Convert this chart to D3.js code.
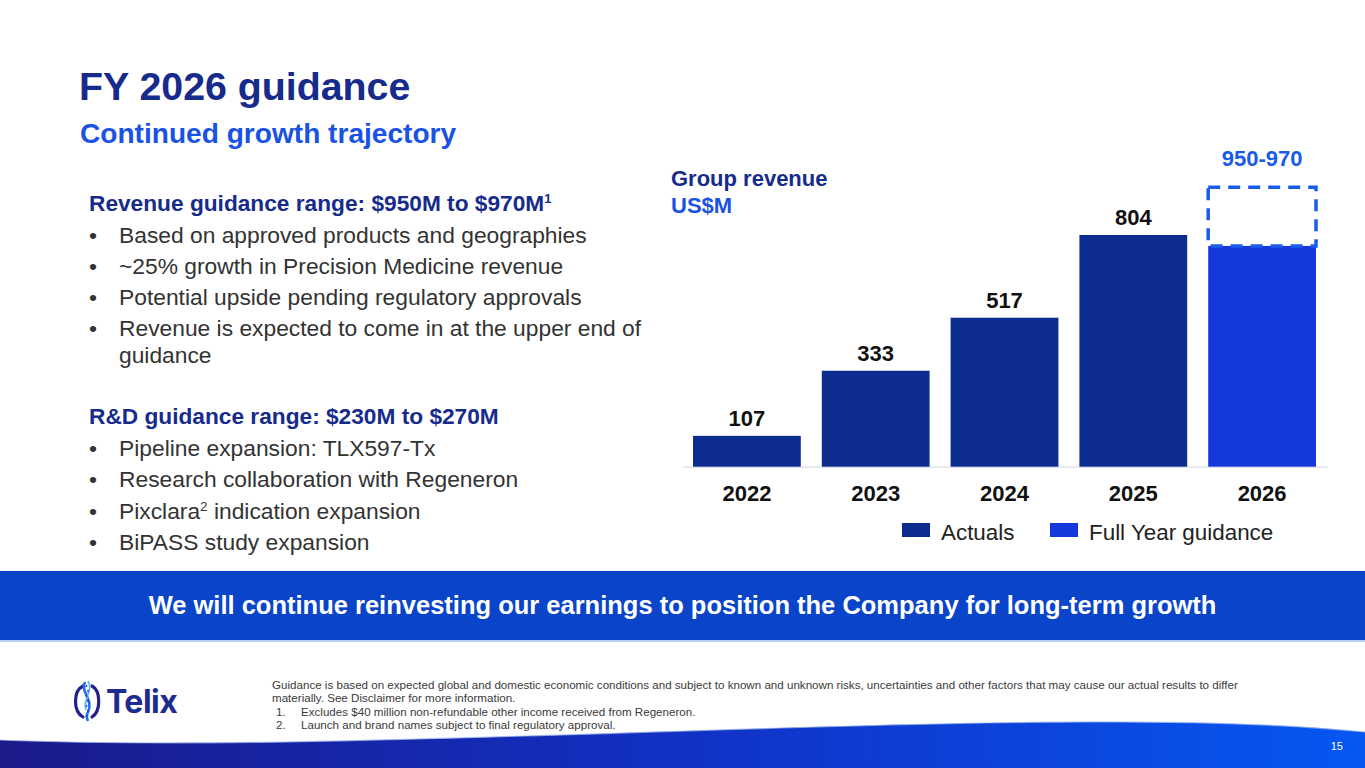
<!DOCTYPE html>
<html><head><meta charset="utf-8">
<script src="https://cdn.jsdelivr.net/npm/d3@7"></script>
<style>html,body{margin:0;padding:0;background:#fff;overflow:hidden}</style>
</head><body>
<svg id="c" width="1365" height="768"></svg>
<script>
// ---- data ----
const years = ["2022", "2023", "2024", "2025", "2026"];
const actualYears = ["2022", "2023", "2024", "2025"];
const actualValues = [107, 333, 517, 804];
const guidanceYear = "2026";
const guidanceSolidDrawn = 766;   // level of the solid 2026 bar as drawn
const guidanceLow = 950;
const guidanceHigh = 970;
const guidanceLabel = "950-970";
const legendLabels = ["Actuals", "Full Year guidance"];

const revHeading = "Revenue guidance range: $950M to $970M";
const revBullets = [
  ["Based on approved products and geographies"],
  ["~25% growth in Precision Medicine revenue"],
  ["Potential upside pending regulatory approvals"],
  ["Revenue is expected to come in at the upper end of", "guidance"]
];
const rdHeading = "R&D guidance range: $230M to $270M";
const rdBullets = ["Pipeline expansion: TLX597-Tx", "Research collaboration with Regeneron", "Pixclara|2| indication expansion", "BiPASS study expansion"];
const bannerText = "We will continue reinvesting our earnings to position the Company for long-term growth";
const footLines = [
  "Guidance is based on expected global and domestic economic conditions and subject to known and unknown risks, uncertainties and other factors that may cause our actual results to differ",
  "materially. See Disclaimer for more information."
];
const footNotes = [["1.", "Excludes $40 million non-refundable other income received from Regeneron."], ["2.", "Launch and brand names subject to final regulatory approval."]];

// ---- styles ----
const FONT = "'Liberation Sans', Arial, Helvetica, sans-serif";
const NAVY = "#162b8c";
const BLUE = "#1a52e3";
const ACT = "#0c2d8f";
const GUIDE = "#1438dc";
const DASH = "#1a5ce8";
const BODY = 22.8;

const svg = d3.select("#c").style("font-family", FONT);
const defs = svg.append("defs");

// ---- title ----
svg.append("text").attr("x", 79).attr("y", 100).attr("fill", NAVY)
  .attr("font-size", 39.3).attr("font-weight", "bold").text("FY 2026 guidance");
svg.append("text").attr("x", 80).attr("y", 143).attr("fill", BLUE)
  .attr("font-size", 28.1).attr("font-weight", "bold").text("Continued growth trajectory");

// ---- left text ----
const left = svg.append("g");
const h1 = left.append("text").attr("x", 89).attr("y", 211).attr("fill", NAVY)
  .attr("font-size", 22.7).attr("font-weight", "bold");
h1.append("tspan").text(revHeading);
h1.append("tspan").attr("font-size", 13).attr("dy", -8).text("1");

let yy = 243;
revBullets.forEach(lines => {
  left.append("text").attr("x", 89).attr("y", yy).attr("fill", "#333").attr("font-size", BODY).text("•");
  lines.forEach((ln, i) => {
    left.append("text").attr("x", 119).attr("y", yy + i * 27).attr("fill", "#333")
      .attr("font-size", BODY).text(ln);
  });
  yy += 31;
});

left.append("text").attr("x", 89).attr("y", 424).attr("fill", NAVY)
  .attr("font-size", 22.7).attr("font-weight", "bold").text(rdHeading);
rdBullets.forEach((b, i) => {
  const y0 = 456 + i * 31.3;
  left.append("text").attr("x", 89).attr("y", y0).attr("fill", "#333").attr("font-size", BODY).text("•");
  const t = left.append("text").attr("x", 119).attr("y", y0).attr("fill", "#333").attr("font-size", BODY);
  const parts = b.split("|");
  t.append("tspan").text(parts[0]);
  if (parts.length > 1) {
    t.append("tspan").attr("font-size", 13.5).attr("dy", -8).text(parts[1]);
    t.append("tspan").attr("dy", 8).text(parts[2]);
  }
});

// ---- chart ----
const x = d3.scaleBand().domain(years).range([672, 1337]).paddingInner(0.163).paddingOuter(0.163);
const y = d3.scaleLinear().domain([0, 804]).range([466.7, 235]);
const chart = svg.append("g");

chart.append("text").attr("x", 671).attr("y", 186).attr("fill", NAVY)
  .attr("font-size", 22).attr("font-weight", "bold").text("Group revenue");
chart.append("text").attr("x", 671).attr("y", 213).attr("fill", BLUE)
  .attr("font-size", 22).attr("font-weight", "bold").text("US$M");

chart.append("line").attr("x1", 683).attr("x2", 1328).attr("y1", y(0) + 0.5).attr("y2", y(0) + 0.5)
  .attr("stroke", "#d8dbe8").attr("stroke-width", 1.2);

chart.selectAll("rect.act").data(actualYears.map((d, i) => ({ year: d, v: actualValues[i] })))
  .join("rect").attr("class", "act")
  .attr("x", d => x(d.year)).attr("width", x.bandwidth())
  .attr("y", d => y(d.v)).attr("height", d => y(0) - y(d.v)).attr("fill", ACT);

chart.selectAll("text.val").data(actualYears.map((d, i) => ({ year: d, v: actualValues[i] })))
  .join("text").attr("class", "val")
  .attr("x", d => x(d.year) + x.bandwidth() / 2).attr("y", d => y(d.v) - 10)
  .attr("text-anchor", "middle").attr("font-size", 22).attr("font-weight", "bold").attr("fill", "#111")
  .text(d => d3.format("d")(d.v));

// guidance bar
chart.append("rect").attr("x", x(guidanceYear)).attr("width", x.bandwidth())
  .attr("y", y(guidanceSolidDrawn)).attr("height", y(0) - y(guidanceSolidDrawn)).attr("fill", GUIDE);
chart.append("rect").attr("x", x(guidanceYear)).attr("width", x.bandwidth())
  .attr("y", y(guidanceHigh)).attr("height", y(guidanceSolidDrawn) - y(guidanceHigh))
  .attr("fill", "none").attr("stroke", DASH).attr("stroke-width", 3.5).attr("stroke-dasharray", "12,8");
chart.append("text").attr("x", x(guidanceYear) + x.bandwidth() / 2).attr("y", y(guidanceHigh) - 21)
  .attr("text-anchor", "middle").attr("font-size", 22).attr("font-weight", "bold").attr("fill", DASH)
  .text(guidanceLabel);

// axis
const ax = chart.append("g").attr("transform", `translate(0,${y(0)})`)
  .call(d3.axisBottom(x).tickSize(0).tickPadding(18.7));
ax.select(".domain").remove();
ax.selectAll("text").attr("font-size", 22).attr("font-weight", "bold").attr("fill", "#111")
  .attr("font-family", FONT);

// legend
const legend = chart.append("g");
const legX = [902, 1050];
const legC = [ACT, GUIDE];
legendLabels.forEach((l, i) => {
  legend.append("rect").attr("x", legX[i]).attr("y", 523).attr("width", 28).attr("height", 14).attr("fill", legC[i]);
  legend.append("text").attr("x", legX[i] + 39).attr("y", 540).attr("font-size", 22.4).attr("fill", "#222").text(l);
});

// ---- banner ----
svg.append("rect").attr("x", 0).attr("y", 571).attr("width", 1365).attr("height", 69).attr("fill", "#0a45c9");
svg.append("rect").attr("x", 0).attr("y", 640).attr("width", 1365).attr("height", 2).attr("fill", "#b9d0f6");
svg.append("text").attr("x", 682.5).attr("y", 614).attr("text-anchor", "middle").attr("fill", "#fff")
  .attr("font-size", 25.5).attr("font-weight", "bold").text(bannerText);

// ---- footer ----
const foot = svg.append("g").attr("font-size", 11.6).attr("fill", "#3a3a3a");
footLines.forEach((l, i) => foot.append("text").attr("x", 272).attr("y", 688.5 + i * 13.5).text(l));
footNotes.forEach((n, i) => {
  foot.append("text").attr("x", 276).attr("y", 716 + i * 13.2).text(n[0]);
  foot.append("text").attr("x", 301).attr("y", 716 + i * 13.2).text(n[1]);
});

// ---- bottom wave ----
const grad = defs.append("linearGradient").attr("id", "wg").attr("x1", "0%").attr("x2", "100%");
grad.append("stop").attr("offset", "0%").attr("stop-color", "#1b1a8a");
grad.append("stop").attr("offset", "50%").attr("stop-color", "#1131c4");
grad.append("stop").attr("offset", "100%").attr("stop-color", "#0657f2");
svg.append("path").attr("d", "M0,740 C400,756 1050,700 1365,732 L1365,768 L0,768 Z").attr("fill", "url(#wg)");
svg.append("path").attr("d", "M0,740 C400,756 1050,700 1365,732").attr("fill", "none")
  .attr("stroke", "#9fb8f0").attr("stroke-width", 1.2).attr("opacity", 0.7);
svg.append("text").attr("x", 1343).attr("y", 750).attr("text-anchor", "end").attr("fill", "#fff")
  .attr("font-size", 11).text("15");

// ---- logo ----
const logo = svg.append("g");
logo.append("path").attr("d", "M83,686 C73,691 73,711 83,717").attr("fill", "none").attr("stroke", "#24208a").attr("stroke-width", 3.2).attr("stroke-linecap", "round");
logo.append("path").attr("d", "M92,686 C101,691 101,711 92,717").attr("fill", "none").attr("stroke", "#24208a").attr("stroke-width", 3.2).attr("stroke-linecap", "round");
logo.append("path").attr("d", "M85,682 C80,692 94,700 88,712 C86,716 87,719 88,721").attr("fill", "none").attr("stroke", "#1e6ff0").attr("stroke-width", 2.6);
logo.append("path").attr("d", "M88,681 C94,690 82,700 86,710").attr("fill", "none").attr("stroke", "#5fb4f5").attr("stroke-width", 1.8);
[686, 691, 696, 701, 706, 711, 716].forEach((yy2, i) => logo.append("circle").attr("cx", 87 + (i % 2 ? 1 : -0.5)).attr("cy", yy2).attr("r", 0.9).attr("fill", "#2a3aa0"));
logo.append("text").attr("x", 106).attr("y", 713).attr("fill", "#1e2b8e").attr("font-size", 32)
  .attr("font-weight", "bold").attr("font-family", "Inter, 'Liberation Sans', sans-serif").attr("letter-spacing", -0.5).text("Telix");
</script>
</body></html>
